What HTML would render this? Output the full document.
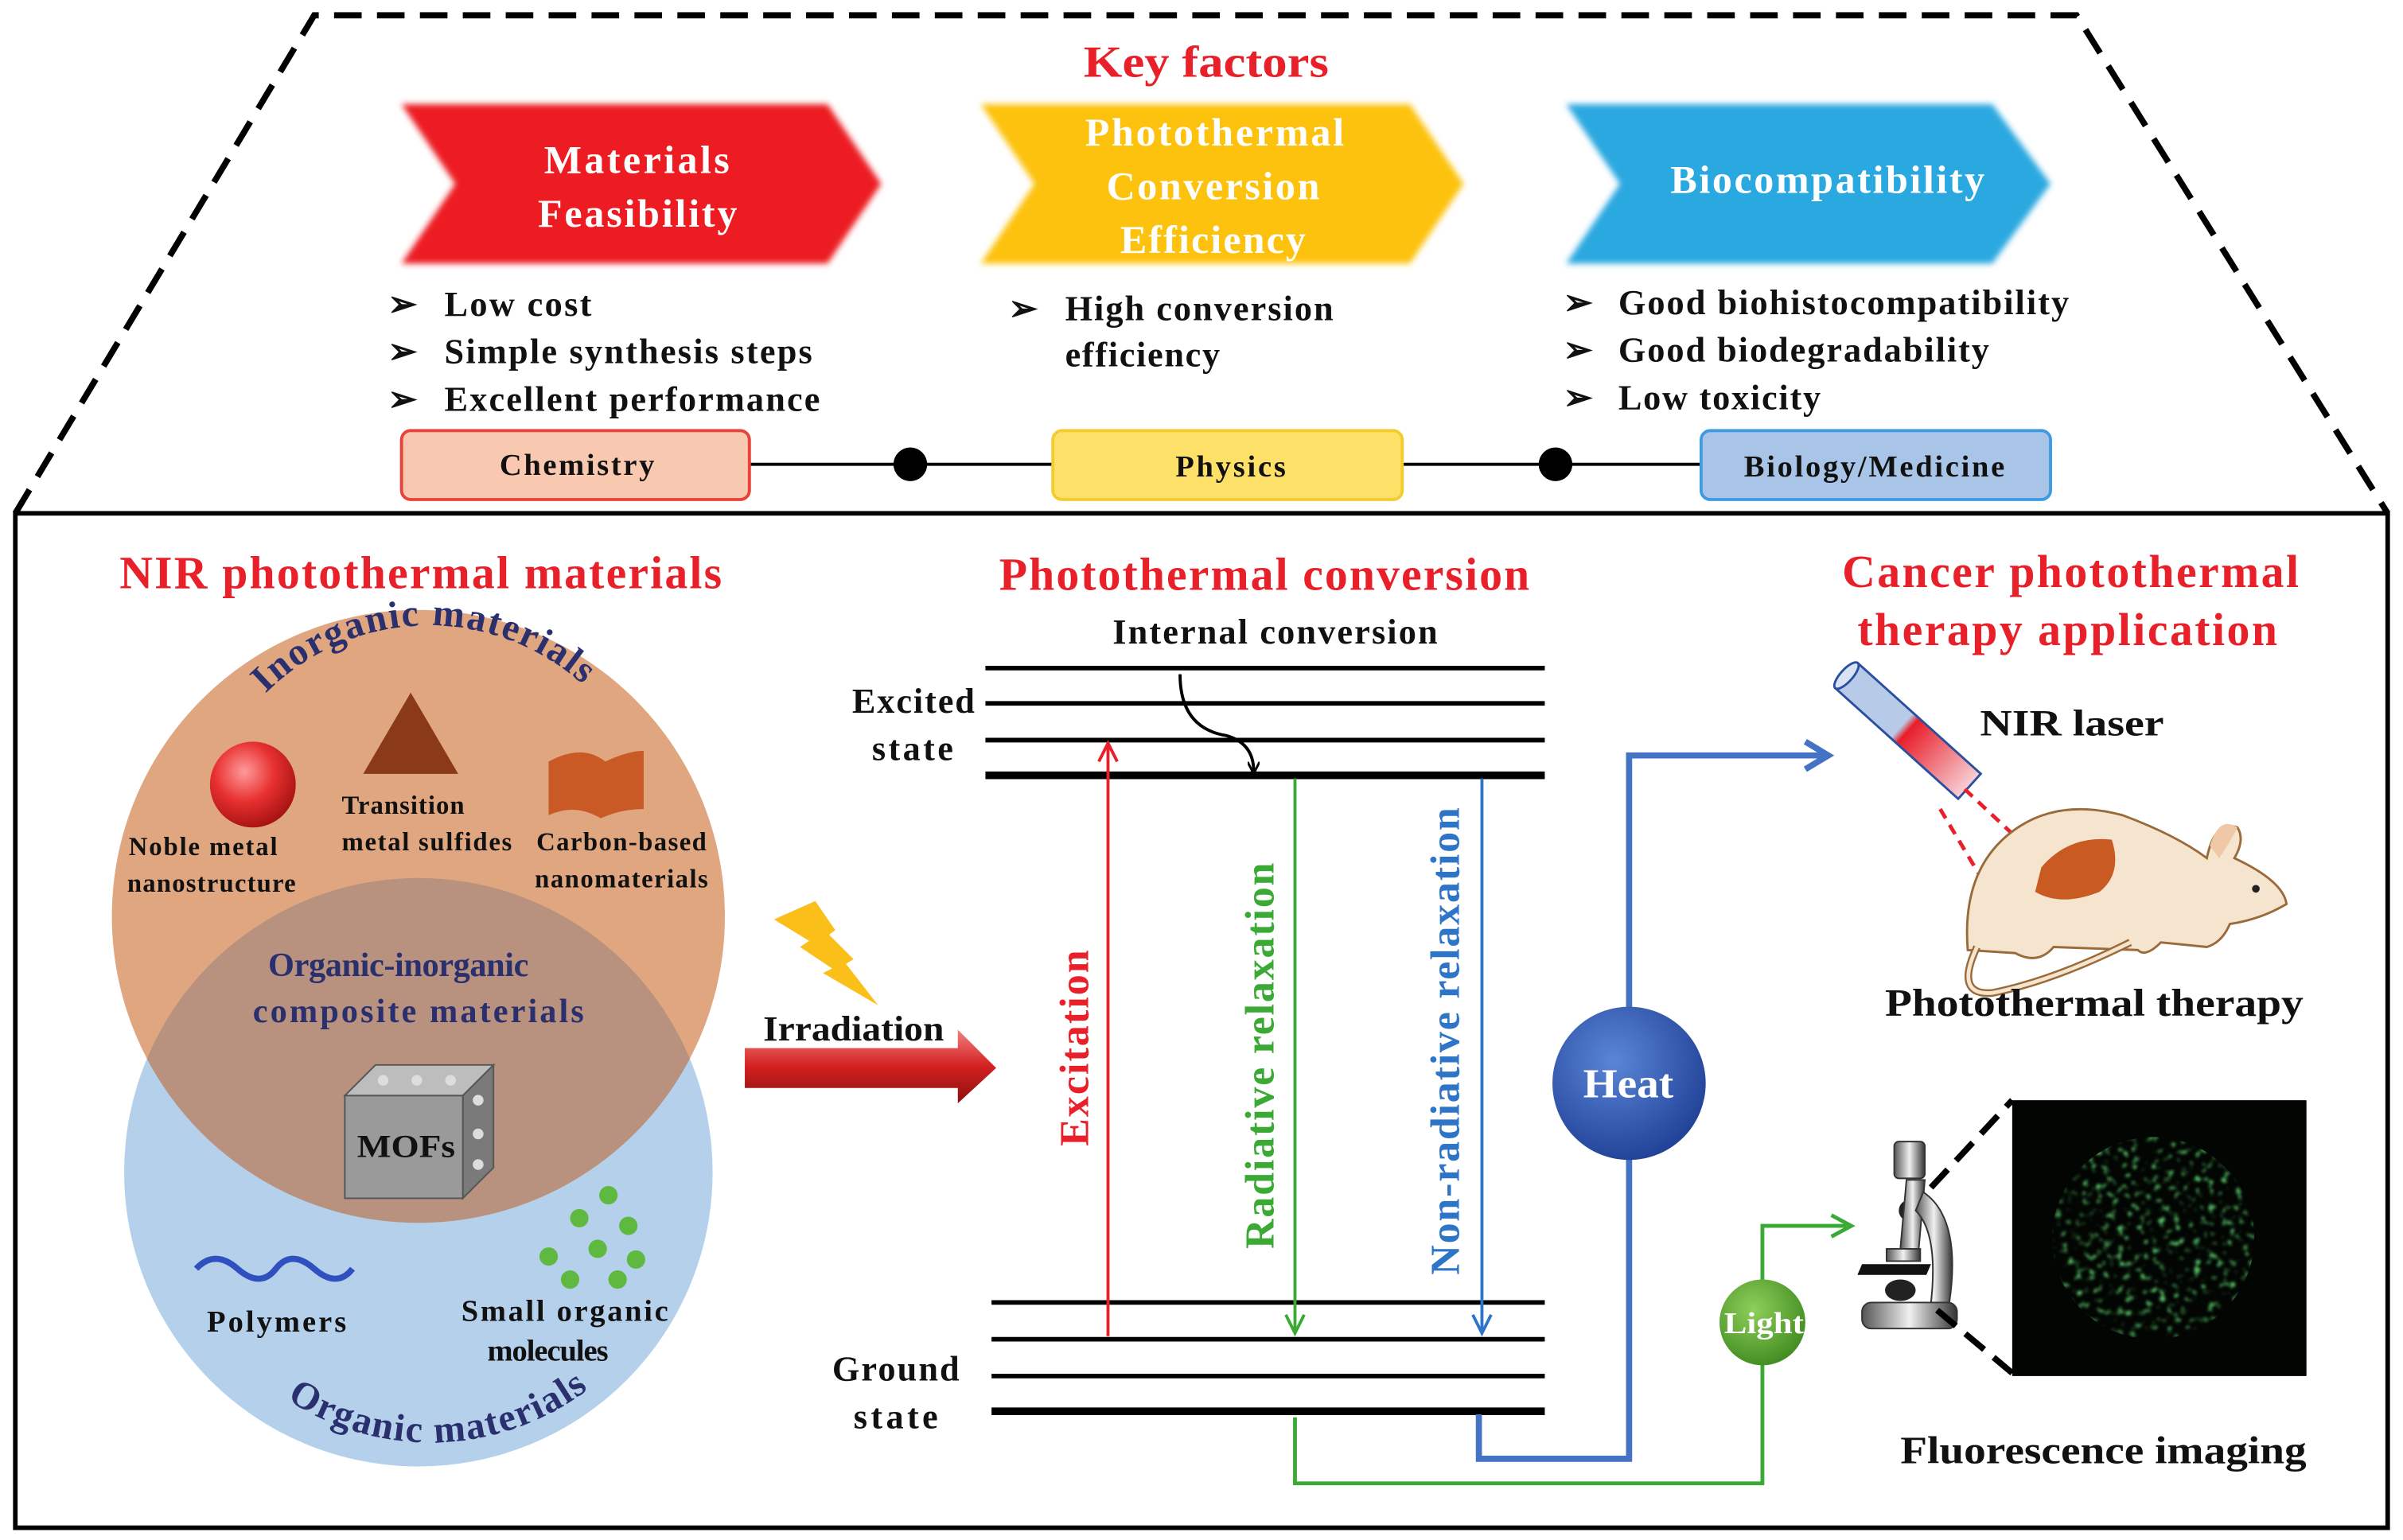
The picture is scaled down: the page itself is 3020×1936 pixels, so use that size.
<!DOCTYPE html>
<html><head><meta charset="utf-8">
<style>
html,body{margin:0;padding:0;background:#fff;}
svg{display:block;}
text{font-family:"Liberation Serif",serif;font-weight:bold;}
</style></head>
<body>
<svg width="3020" height="1936" viewBox="0 0 1568 1005" preserveAspectRatio="none" xmlns="http://www.w3.org/2000/svg">
<defs>
<radialGradient id="sph" cx="0.4" cy="0.35" r="0.7"><stop offset="0" stop-color="#ff9a9a"/><stop offset="0.5" stop-color="#e83030"/><stop offset="1" stop-color="#a01010"/></radialGradient>
<radialGradient id="heat" cx="0.4" cy="0.35" r="0.7"><stop offset="0" stop-color="#5a86d8"/><stop offset="1" stop-color="#1f3f95"/></radialGradient>
<radialGradient id="light" cx="0.4" cy="0.35" r="0.7"><stop offset="0" stop-color="#8fcf5a"/><stop offset="1" stop-color="#3f8a20"/></radialGradient>
<linearGradient id="irr" x1="0" y1="0" x2="0" y2="1"><stop offset="0" stop-color="#f08080"/><stop offset="0.5" stop-color="#d42020"/><stop offset="1" stop-color="#8a1010"/></linearGradient>
<linearGradient id="tube" x1="0" y1="0" x2="1" y2="0"><stop offset="0" stop-color="#b7cbe8"/><stop offset="0.45" stop-color="#b7cbe8"/><stop offset="0.5" stop-color="#e81e2a"/><stop offset="1" stop-color="#f7d0d4"/></linearGradient>
<linearGradient id="mic" x1="0" y1="0" x2="1" y2="0"><stop offset="0" stop-color="#555"/><stop offset="0.5" stop-color="#f0f0f0"/><stop offset="1" stop-color="#333"/></linearGradient>
<filter id="blur"><feGaussianBlur stdDeviation="2"/></filter>
<clipPath id="oc"><circle cx="273" cy="598" r="200"/></clipPath>
<clipPath id="fl"><ellipse cx="1405" cy="808" rx="66" ry="66"/></clipPath>
<filter id="speck" x="0" y="0" width="1" height="1"><feTurbulence type="fractalNoise" baseFrequency="0.22" numOctaves="2" seed="5"/><feColorMatrix type="matrix" values="0 0 0 0 0.1  0 0 0 0 0.6  0 0 0 0 0.15  0 0 0 5 -2.9"/><feGaussianBlur stdDeviation="1"/></filter>
<path id="arcTop" d="M160,468 A150,150 0 0,1 395,462"/>
<path id="arcBot" d="M190,915 A170,170 0 0,0 382,908"/>
<marker id="ab" markerWidth="8" markerHeight="8" refX="6" refY="4" orient="auto" markerUnits="userSpaceOnUse"><path d="M0,0 L8,4 L0,8" fill="none" stroke="#000" stroke-width="1.5"/></marker>
</defs>

<polyline points="10,335 205,10 1355,10 1558,335" fill="none" stroke="#000" stroke-width="4" stroke-dasharray="18,10"/>
<rect x="10" y="335" width="1548" height="662" fill="none" stroke="#000" stroke-width="3"/>

<text x="707" y="50" font-size="29" fill="#e8202a" textLength="160" lengthAdjust="spacingAndGlyphs">Key factors</text>

<g filter="url(#blur)">
<polygon points="262,68 540,68 575,120 540,172 262,172 297,120" fill="#ec1c24"/>
<polygon points="640,68 920,68 955,120 920,172 640,172 675,120" fill="#fdc20e"/>
<polygon points="1022,68 1300,68 1338,120 1300,172 1022,172 1057,120" fill="#29a8e0"/>
</g>
<g fill="#fff" font-size="26" lengthAdjust="spacingAndGlyphs">
<text x="355" y="113" textLength="121">Materials</text><text x="351" y="148" textLength="130">Feasibility</text>
<text x="708" y="95" textLength="169">Photothermal</text><text x="722" y="130" textLength="139">Conversion</text><text x="731" y="165" textLength="121">Efficiency</text>
<text x="1090" y="126" textLength="205">Biocompatibility</text>
</g>

<g font-size="23" fill="#111" lengthAdjust="spacingAndGlyphs">
<text x="253" y="206">➢</text><text x="290" y="206" textLength="96">Low cost</text>
<text x="253" y="237">➢</text><text x="290" y="237" textLength="240">Simple synthesis  steps</text>
<text x="253" y="268">➢</text><text x="290" y="268" textLength="245">Excellent performance</text>
<text x="658" y="209">➢</text><text x="695" y="209" textLength="175">High conversion</text>
<text x="695" y="239" textLength="101">efficiency</text>
<text x="1020" y="205">➢</text><text x="1056" y="205" textLength="294">Good biohistocompatibility</text>
<text x="1020" y="236">➢</text><text x="1056" y="236" textLength="242">Good biodegradability</text>
<text x="1020" y="267">➢</text><text x="1056" y="267" textLength="132">Low toxicity</text>
</g>

<line x1="489" y1="303" x2="687" y2="303" stroke="#000" stroke-width="2"/>
<line x1="915" y1="303" x2="1110" y2="303" stroke="#000" stroke-width="2"/>
<circle cx="594" cy="303" r="11" fill="#000"/><circle cx="1015" cy="303" r="11" fill="#000"/>
<rect x="262" y="281" width="227" height="45" rx="6" fill="#f8c8b0" stroke="#e8423a" stroke-width="2"/>
<rect x="687" y="281" width="228" height="45" rx="6" fill="#fde068" stroke="#f5cc30" stroke-width="2"/>
<rect x="1110" y="281" width="228" height="45" rx="6" fill="#a8c5e8" stroke="#3f9ae0" stroke-width="2"/>
<g font-size="20" fill="#111" lengthAdjust="spacingAndGlyphs">
<text x="326" y="310" textLength="101">Chemistry</text><text x="767" y="311" textLength="72">Physics</text><text x="1138" y="311" textLength="170">Biology/Medicine</text>
</g>

<g font-size="30" fill="#e8202a" lengthAdjust="spacingAndGlyphs">
<text x="78" y="384" textLength="393">NIR photothermal materials</text>
<text x="652" y="385" textLength="346">Photothermal conversion</text>
<text x="1202" y="383" textLength="298">Cancer photothermal</text>
<text x="1212" y="421" textLength="274">therapy application</text>
</g>

<circle cx="273" cy="765" r="192" fill="#b4d0ea"/>
<circle cx="273" cy="598" r="200" fill="#e0a67f"/>
<circle cx="273" cy="765" r="192" fill="#b8927e" clip-path="url(#oc)"/>
<text font-size="25" fill="#2a2f6e" letter-spacing="1"><textPath href="#arcTop" startOffset="50%" text-anchor="middle">Inorganic materials</textPath></text>
<text font-size="25" fill="#2a2f6e" letter-spacing="1"><textPath href="#arcBot" startOffset="50%" text-anchor="middle">Organic materials</textPath></text>
<circle cx="165" cy="512" r="28" fill="url(#sph)"/>
<polygon points="237,505 268,452 299,505" fill="#8a3a18"/>
<path d="M358,497 Q380,485 395,497 Q410,490 420,490 L420,528 Q405,528 392,534 Q375,524 358,532 Z" fill="#c95a25"/>
<g font-size="17" fill="#111" lengthAdjust="spacingAndGlyphs">
<text x="84" y="558" textLength="97">Noble metal</text><text x="83" y="582" textLength="110">nanostructure</text>
<text x="223" y="531" textLength="80">Transition</text><text x="223" y="555" textLength="111">metal sulfides</text>
<text x="350" y="555" textLength="111">Carbon-based</text><text x="349" y="579" textLength="113">nanomaterials</text>
</g>
<g font-size="22" fill="#2a2f6e" lengthAdjust="spacingAndGlyphs">
<text x="175" y="637" textLength="170">Organic-inorganic</text><text x="165" y="667" textLength="216">composite materials</text>
</g>
<polygon points="225,715 245,695 322,695 302,715" fill="#bdbdbd" stroke="#555"/>
<polygon points="302,715 322,695 322,762 302,782" fill="#7a7a7a" stroke="#555"/>
<rect x="225" y="715" width="77" height="67" fill="#9a9a9a" stroke="#555"/>
<g fill="#ddd"><circle cx="250" cy="705" r="3.5"/><circle cx="272" cy="705" r="3.5"/><circle cx="294" cy="705" r="3.5"/><circle cx="312" cy="718" r="3.5"/><circle cx="312" cy="740" r="3.5"/><circle cx="312" cy="760" r="3.5"/></g>
<text x="233" y="755" font-size="21" fill="#111" textLength="64" lengthAdjust="spacingAndGlyphs">MOFs</text>
<path d="M128,828 Q140,815 155,828 T180,828 T205,828 T230,828" fill="none" stroke="#3050c0" stroke-width="4"/>
<g fill="#5fb840"><circle cx="397" cy="780" r="6"/><circle cx="378" cy="795" r="6"/><circle cx="410" cy="800" r="6"/><circle cx="358" cy="820" r="6"/><circle cx="390" cy="815" r="6"/><circle cx="415" cy="822" r="6"/><circle cx="372" cy="835" r="6"/><circle cx="403" cy="835" r="6"/></g>
<g font-size="20" fill="#111" lengthAdjust="spacingAndGlyphs">
<text x="135" y="869" textLength="91">Polymers</text><text x="301" y="862" textLength="135">Small organic</text><text x="318" y="888" textLength="79">molecules</text>
</g>

<polygon points="505,600 532,588 545,607 541,610 557,626 552,629 573,656 537,635 543,632 522,618 528,614" fill="#fbbf1a"/>
<text x="498" y="679" font-size="23" fill="#111" textLength="118" lengthAdjust="spacingAndGlyphs">Irradiation</text>
<polygon points="486,684 625,684 625,672 650,697 625,720 625,710 486,710" fill="url(#irr)"/>

<g stroke="#000">
<line x1="643" y1="436" x2="1008" y2="436" stroke-width="3"/>
<line x1="643" y1="459" x2="1008" y2="459" stroke-width="3"/>
<line x1="643" y1="483" x2="1008" y2="483" stroke-width="3"/>
<line x1="643" y1="506" x2="1008" y2="506" stroke-width="5"/>
<line x1="647" y1="850" x2="1008" y2="850" stroke-width="3"/>
<line x1="647" y1="874" x2="1008" y2="874" stroke-width="3"/>
<line x1="647" y1="898" x2="1008" y2="898" stroke-width="3"/>
<line x1="647" y1="921" x2="1008" y2="921" stroke-width="5"/>
</g>
<g font-size="23" fill="#111" lengthAdjust="spacingAndGlyphs">
<text x="726" y="420" textLength="212">Internal  conversion</text>
<text x="556" y="465" textLength="80">Excited</text><text x="569" y="496" textLength="53">state</text>
<text x="543" y="901" textLength="83">Ground</text><text x="557" y="932" textLength="55">state</text>
</g>
<path d="M770,440 Q770,475 800,480 Q818,485 818,503" fill="none" stroke="#000" stroke-width="2" marker-end="url(#ab)"/>
<line x1="723" y1="872" x2="723" y2="487" stroke="#e8202a" stroke-width="2"/>
<path d="M717,497 L723,485 L729,497" fill="none" stroke="#e8202a" stroke-width="2"/>
<line x1="845" y1="508" x2="845" y2="868" stroke="#3aaa35" stroke-width="2"/>
<path d="M839,858 L845,870 L851,858" fill="none" stroke="#3aaa35" stroke-width="2"/>
<line x1="967" y1="508" x2="967" y2="868" stroke="#2e75c8" stroke-width="2"/>
<path d="M961,858 L967,870 L973,858" fill="none" stroke="#2e75c8" stroke-width="2"/>
<g font-size="27" lengthAdjust="spacingAndGlyphs">
<text transform="translate(710,748) rotate(-90)" fill="#e8202a" textLength="128">Excitation</text>
<text transform="translate(831,815) rotate(-90)" fill="#3aaa35" textLength="252">Radiative  relaxation</text>
<text transform="translate(952,832) rotate(-90)" fill="#2e75c8" textLength="305">Non-radiative  relaxation</text>
</g>

<polyline points="845,925 845,968 1150,968 1150,800 1205,800" fill="none" stroke="#3aaa35" stroke-width="2.5"/>
<path d="M1195,793 L1208,800 L1195,807" fill="none" stroke="#3aaa35" stroke-width="2.5"/>
<polyline points="965,923 965,952 1063,952 1063,493 1190,493" fill="none" stroke="#4472c4" stroke-width="4"/>
<path d="M1178,484 L1193,493 L1178,502" fill="none" stroke="#4472c4" stroke-width="4"/>
<circle cx="1063" cy="707" r="50" fill="url(#heat)"/>
<text x="1033" y="716" font-size="27" fill="#fff" textLength="59" lengthAdjust="spacingAndGlyphs">Heat</text>
<circle cx="1150" cy="863" r="28" fill="url(#light)"/>
<text x="1125" y="870" font-size="20" fill="#fff" textLength="52" lengthAdjust="spacingAndGlyphs">Light</text>

<g transform="translate(1245,477) rotate(42)">
<rect x="-54" y="-11" width="108" height="22" fill="url(#tube)" stroke="#2a4ea0" stroke-width="1.5"/>
<ellipse cx="-54" cy="0" rx="4" ry="11" fill="#d8e4f4" stroke="#2a4ea0" stroke-width="1.5"/>
</g>
<line x1="1282" y1="515" x2="1330" y2="560" stroke="#e8202a" stroke-width="2.5" stroke-dasharray="7,5"/>
<line x1="1266" y1="528" x2="1300" y2="585" stroke="#e8202a" stroke-width="2.5" stroke-dasharray="7,5"/>
<path d="M1284,620 Q1280,570 1310,545 Q1340,520 1385,532 Q1420,545 1440,560 Q1445,535 1460,540 Q1465,548 1458,560 Q1490,575 1492,590 Q1475,600 1455,603 Q1450,615 1440,618 L1410,615 Q1400,625 1395,620 L1340,618 Q1330,630 1315,622 Z" fill="#f5e4ce" stroke="#9a6a3a" stroke-width="1.5"/>
<path d="M1442,552 Q1448,532 1460,540 Q1455,550 1448,560 Z" fill="#f0c8a8"/>
<path d="M1332,566 Q1350,545 1378,548 Q1385,570 1370,582 Q1345,592 1328,582 Z" fill="#c85a22"/>
<circle cx="1472" cy="580" r="2.5" fill="#222"/>
<path d="M1290,618 Q1275,650 1300,648 Q1340,640 1390,615" fill="none" stroke="#9a6a3a" stroke-width="5"/>
<path d="M1290,618 Q1275,650 1300,648 Q1340,640 1390,615" fill="none" stroke="#f5e4ce" stroke-width="2.5"/>
<text x="1292" y="480" font-size="24" fill="#111" textLength="120" lengthAdjust="spacingAndGlyphs">NIR laser</text>
<text x="1230" y="663" font-size="25" fill="#111" textLength="273" lengthAdjust="spacingAndGlyphs">Photothermal therapy</text>

<g>
<rect x="1236" y="745" width="20" height="24" rx="3" fill="url(#mic)" stroke="#333"/>
<circle cx="1246" cy="790" r="7" fill="#222"/>
<path d="M1244,770 L1256,770 L1252,815 L1240,815 Z" fill="url(#mic)" stroke="#333"/>
<path d="M1255,778 Q1280,795 1272,850 L1260,850 Q1265,805 1250,790 Z" fill="url(#mic)" stroke="#333"/>
<rect x="1231" y="815" width="22" height="8" fill="url(#mic)" stroke="#333"/>
<polygon points="1215,825 1260,825 1257,832 1212,832" fill="#111"/>
<ellipse cx="1240" cy="842" rx="10" ry="7" fill="#222"/>
<rect x="1215" y="850" width="62" height="17" rx="6" fill="url(#mic)" stroke="#333"/>
</g>
<line x1="1260" y1="775" x2="1313" y2="718" stroke="#000" stroke-width="4" stroke-dasharray="16,8"/>
<line x1="1264" y1="855" x2="1313" y2="896" stroke="#000" stroke-width="4" stroke-dasharray="16,8"/>
<rect x="1313" y="718" width="192" height="180" fill="#020502"/>
<rect x="1335" y="738" width="140" height="140" filter="url(#speck)" clip-path="url(#fl)"/>
<text x="1240" y="955" font-size="25" fill="#111" textLength="265" lengthAdjust="spacingAndGlyphs">Fluorescence imaging</text>
</svg>
</body></html>
